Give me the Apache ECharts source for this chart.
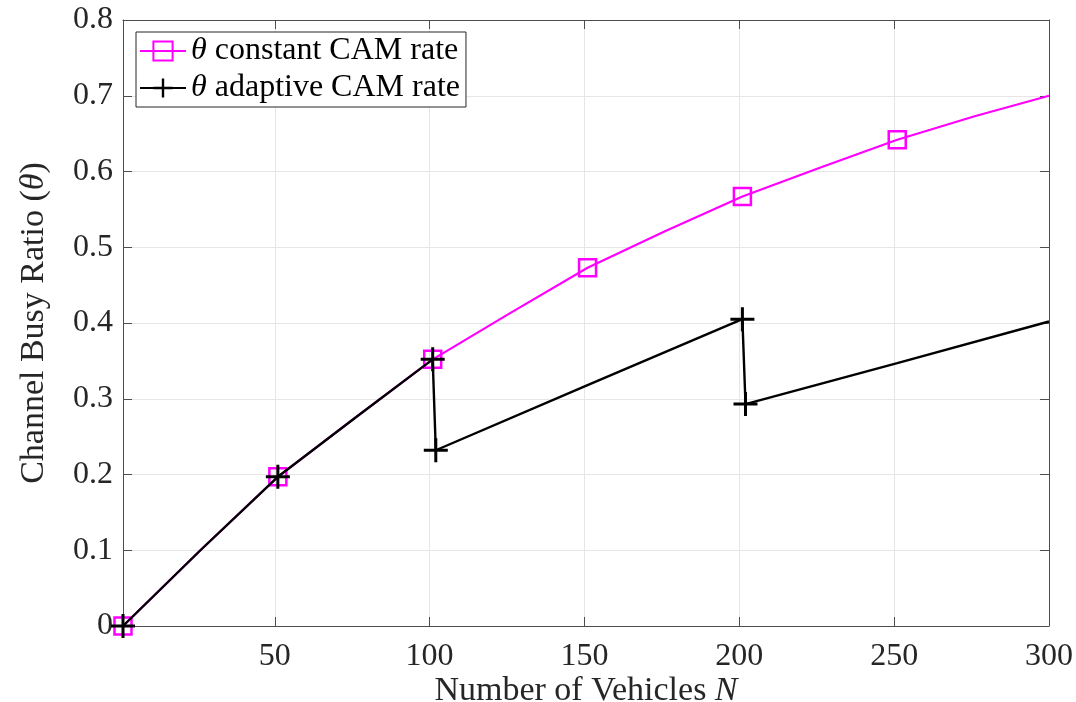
<!DOCTYPE html>
<html>
<head>
<meta charset="utf-8">
<script src="https://cdn.jsdelivr.net/npm/echarts@6/dist/echarts.min.js"></script>
<style>html,body{margin:0;padding:0;background:#fff;}#c{width:1076px;height:702px;}</style>
</head>
<body>
<div id="c"></div>
<script>
const nConst = [1, 26, 51, 76, 101, 126, 151, 176, 201, 226, 251, 276, 300];
const thetaConst = [0, 0.100, 0.197, 0.275, 0.352, 0.413, 0.473, 0.521, 0.567, 0.605, 0.642, 0.673, 0.700];
const markConst = [1, 51, 101, 151, 201, 251];
const nAdapt = [1, 26, 51, 76, 101, 102, 151, 201, 202, 251, 300];
const thetaAdapt = [0, 0.100, 0.197, 0.275, 0.352, 0.232, 0.318, 0.405, 0.293, 0.347, 0.402];
const markAdapt = [1, 51, 101, 102, 201, 202];
const xTicks = [50, 100, 150, 200, 250, 300];
const yTicks = [0, 0.1, 0.2, 0.3, 0.4, 0.5, 0.6, 0.7, 0.8];
const seriesNames = ['{i|θ} constant CAM rate', '{i|θ} adaptive CAM rate'];

const FONT = 'Liberation Serif';
const AX = '#4d4d4d';
const TXT = '#262626';
const plusPath = 'path://M8.75,0H11.25V8.75H20V11.25H11.25V20H8.75V11.25H0V8.75H8.75Z';

function build(ns, vs, marks) {
  return ns.map((n, i) => marks.indexOf(n) >= 0 ? [n, vs[i]] : {value: [n, vs[i]], symbol: 'none'});
}

const chart = echarts.init(document.getElementById('c'), null, {renderer: 'canvas'});
chart.setOption({
  animation: false,
  backgroundColor: '#fff',
  textStyle: {fontFamily: FONT},
  grid: {left: 123, right: 27, top: 20, bottom: 76, containLabel: false, outerBoundsMode: 'none'},
  legend: {
    left: 136, top: 32, orient: 'vertical',
    backgroundColor: '#fff', borderColor: '#262626', borderWidth: 1,
    padding: [2, 6, 2, 3], itemGap: 3, itemWidth: 46, itemHeight: 24,
    data: [seriesNames[0], seriesNames[1]],
    textStyle: {fontFamily: FONT, fontSize: 32, lineHeight: 34, color: '#000',
      rich: {i: {fontFamily: FONT, fontSize: 32, lineHeight: 34, fontStyle: 'italic', color: '#000'}}}
  },
  xAxis: [{
    type: 'value', min: 1, max: 300,
    name: 'Number of Vehicles {i|N}', nameLocation: 'middle', nameGap: 48, nameMoveOverlap: false,
    nameTextStyle: {fontFamily: FONT, fontSize: 34, color: TXT,
      rich: {i: {fontFamily: FONT, fontSize: 34, fontStyle: 'italic', color: TXT}}},
    axisLine: {show: true, onZero: false, lineStyle: {color: AX, width: 1}},
    axisTick: {show: true, inside: true, length: 9, customValues: xTicks, lineStyle: {color: AX}},
    axisLabel: {show: true, customValues: xTicks, fontFamily: FONT, fontSize: 32, color: TXT, margin: 15},
    splitLine: {show: true, lineStyle: {color: '#e6e6e6', width: 1}}
  }, {
    type: 'value', min: 1, max: 300, position: 'top',
    axisLine: {show: true, onZero: false, lineStyle: {color: AX, width: 1}},
    axisTick: {show: true, inside: true, length: 9, customValues: xTicks, lineStyle: {color: AX}},
    axisLabel: {show: false}, splitLine: {show: false}
  }],
  yAxis: [{
    type: 'value', min: 0, max: 0.8, interval: 0.1,
    name: 'Channel Busy Ratio ({i|θ})', nameLocation: 'middle', nameGap: 72, nameMoveOverlap: false,
    nameTextStyle: {fontFamily: FONT, fontSize: 34, color: TXT,
      rich: {i: {fontFamily: FONT, fontSize: 34, fontStyle: 'italic', color: TXT}}},
    axisLine: {show: true, onZero: false, lineStyle: {color: AX, width: 1}},
    axisTick: {show: true, inside: true, length: 9, lineStyle: {color: AX}},
    axisLabel: {fontFamily: FONT, fontSize: 32, color: TXT, margin: 10,
      formatter: v => v === 0 ? '0' : v.toFixed(1)},
    splitLine: {show: true, lineStyle: {color: '#e6e6e6', width: 1}}
  }, {
    type: 'value', min: 0, max: 0.8, interval: 0.1, position: 'right',
    axisLine: {show: true, onZero: false, lineStyle: {color: AX, width: 1}},
    axisTick: {show: true, inside: true, length: 9, lineStyle: {color: AX}},
    axisLabel: {show: false}, splitLine: {show: false}
  }],
  series: [{
    name: seriesNames[0], type: 'line', xAxisIndex: 0, yAxisIndex: 0,
    data: build(nConst, thetaConst, markConst),
    symbol: 'rect', symbolSize: 17, clip: false,
    lineStyle: {color: '#ff00ff', width: 2.2},
    itemStyle: {color: 'rgba(255,255,255,0)', borderColor: '#ff00ff', borderWidth: 2.5},
    emphasis: {disabled: true}, z: 2
  }, {
    name: seriesNames[1], type: 'line', xAxisIndex: 0, yAxisIndex: 0,
    data: build(nAdapt, thetaAdapt, markAdapt),
    symbol: plusPath, symbolSize: 24, symbolKeepAspect: true, clip: false,
    lineStyle: {color: '#000', width: 2.4},
    itemStyle: {color: '#000', borderWidth: 0},
    emphasis: {disabled: true}, z: 3
  }]
});
</script>
</body>
</html>
